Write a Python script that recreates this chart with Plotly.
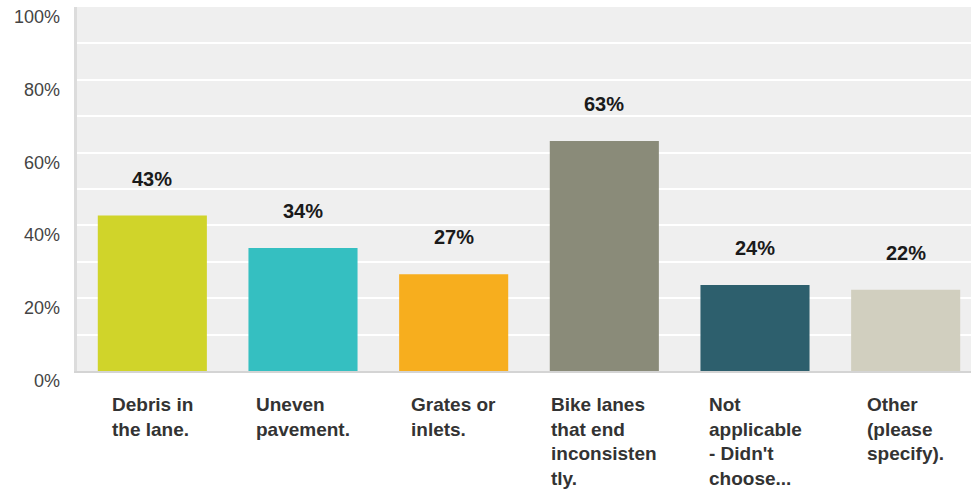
import plotly.graph_objects as go

categories = ["Debris in the lane.", "Uneven pavement.", "Grates or inlets.",
              "Bike lanes that end inconsistently.", "Not applicable - Didn't choose...",
              "Other (please specify)."]
tick_text = ["Debris in<br>the lane.", "Uneven<br>pavement.", "Grates or<br>inlets.",
             "Bike lanes<br>that end<br>inconsisten<br>tly.",
             "Not<br>applicable<br>- Didn't<br>choose...", "Other<br>(please<br>specify)."]
values = [42.7, 33.8, 26.6, 63.2, 23.6, 22.3]
value_labels = ["43%", "34%", "27%", "63%", "24%", "22%"]
colors = ["#d0d42a", "#35bfc1", "#f7ae1e", "#8a8b79", "#2d5f6d", "#d1cfbf"]
y_ticks = [0, 20, 40, 60, 80, 100]
y_tick_labels = ["0%", "20%", "40%", "60%", "80%", "100%"]

FONT = "Arial, 'Liberation Sans', Helvetica, sans-serif"

fig = go.Figure(go.Bar(x=categories, y=values, marker=dict(color=colors, line_width=0),
                       width=0.724, hoverinfo="skip"))

ann = []
for c, v, t in zip(categories, values, value_labels):
    ann.append(dict(x=c, y=v, xref="x", yref="y", text="<b>%s</b>" % t, showarrow=False,
                    yanchor="middle", yshift=37,
                    font=dict(family=FONT, size=20, color="#1a1a1a")))
for c, t in zip(categories, tick_text):
    ann.append(dict(x=c, y=0, xref="x", yref="paper", text="<b>%s</b>" % t, showarrow=False,
                    xanchor="center", yanchor="top", align="left", yshift=-21,
                    font=dict(family=FONT, size=19, color="#333333")))
for v, t in zip(y_ticks, y_tick_labels):
    ann.append(dict(x=0, y=v, xref="paper", yref="y", text=t, showarrow=False,
                    xanchor="right", yanchor="middle", xshift=-15, yshift=-10,
                    font=dict(family=FONT, size=18, color="#444444")))

fig.update_layout(
    width=981, height=491,
    margin=dict(l=77, r=0, t=7, b=120),
    paper_bgcolor="white", plot_bgcolor="#efefef",
    showlegend=False,
    annotations=ann,
    xaxis=dict(showticklabels=False, showgrid=False, zeroline=False,
               showline=True, linecolor="#d4d4d4", linewidth=2, fixedrange=True),
    yaxis=dict(range=[0, 100], dtick=10, showticklabels=False, showgrid=True,
               gridcolor="white", gridwidth=2, zeroline=False,
               showline=True, linecolor="#dcdcdc", linewidth=3, fixedrange=True),
)
fig.write_html("out.html", config={"displayModeBar": False},
               post_script="document.body.style.margin='0';document.body.style.overflow='hidden';")
